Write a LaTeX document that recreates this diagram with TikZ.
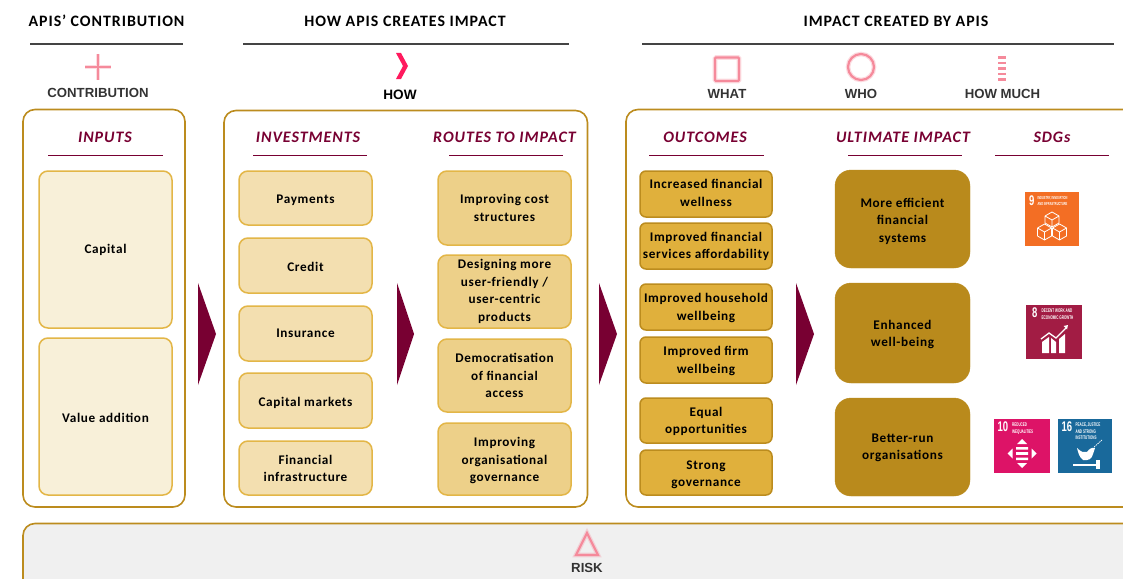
\documentclass[tikz,border=0pt]{standalone}
\usepackage{fontspec}
\setmainfont{Carlito}
\newfontfamily\hdfont[LetterSpace=6]{Carlito}
\newfontfamily\bxfont[LetterSpace=5]{Carlito}
\newfontfamily\iconfont{Liberation Sans}
\definecolor{maroon}{HTML}{780032}
\definecolor{gold}{HTML}{BC8C1E}
\definecolor{goldline}{HTML}{E3B647}
\definecolor{fillA}{HTML}{F8F0D9}
\definecolor{fillB}{HTML}{F3DFB0}
\definecolor{fillC}{HTML}{EDD089}
\definecolor{fillD}{HTML}{E0B03C}
\definecolor{fillE}{HTML}{B98A1C}
\definecolor{riskbg}{HTML}{F0F0F0}
\definecolor{rule}{HTML}{444444}
\definecolor{iconpink}{HTML}{F58A9B}
\definecolor{howpink}{HTML}{FF1A5E}
\definecolor{sdgnine}{HTML}{F36E24}
\definecolor{sdgeight}{HTML}{A21C44}
\definecolor{sdgten}{HTML}{DD1367}
\definecolor{sdgsixteen}{HTML}{19699B}
\tikzset{
  x=1pt,y=-1pt,
  basebox/.style={draw,rounded corners=9pt,inner sep=0pt,outer sep=0pt},
  boxtext/.style={align=center,font=\bxfont\bfseries\fontsize{13.2}{17.5}\selectfont,inner sep=0pt,text=black},
  panel/.style={draw=gold,line width=1.6pt,rounded corners=12pt,fill=white},
  boxA/.style={basebox,fill=fillA,draw=goldline,line width=1.5pt},
  boxB/.style={basebox,fill=fillB,draw=goldline,line width=1.5pt},
  boxC/.style={basebox,fill=fillC,draw=goldline,line width=1.5pt},
  boxD/.style={basebox,fill=fillD,draw=gold,line width=1.5pt,rounded corners=6pt},
  boxE/.style={basebox,fill=fillE,draw=fillE,rounded corners=16pt},
  maintitle/.style={font=\hdfont\bfseries\fontsize{15.9}{17}\selectfont,inner sep=0pt,text=black},
  subtitle/.style={font=\hdfont\bfseries\itshape\fontsize{16}{17}\selectfont,inner sep=0pt,text=maroon},
  iconlabel/.style={font=\iconfont\bfseries\fontsize{13.2}{14}\selectfont,inner sep=0pt,text=black!80},
  headrule/.style={draw=rule,line width=1.4pt},
  subrule/.style={draw=maroon,line width=1pt},
  flowtri/.style={fill=maroon,draw=none},
  iconline/.style={draw=iconpink,line width=2.2pt,preaction={draw=iconpink,opacity=.3,line width=4.6pt}},
  sdgtext/.style={font=\iconfont\bfseries\fontsize{5.2}{6.7}\selectfont,text=white,align=left,inner sep=0pt,anchor=north west,xscale=.58,transform shape},
  sdgnum/.style={font=\iconfont\bfseries\fontsize{14}{14}\selectfont,text=white,inner sep=0pt,anchor=north west,xscale=.68,transform shape},
}
\newcommand{\bx}[8]{\node[#2,minimum width={(#5-#3)*1pt},minimum height={(#6-#4)*1pt}] (#1) at ({(#3+#5)/2},{(#4+#6)/2}) {};
\node[boxtext] (#1-t) at ([yshift={(-#8)*1pt}]#1.center) {#7};}
\begin{document}
\begin{tikzpicture}
\useasboundingbox (0,0) rectangle (1123,578);
% titles
\node[maintitle] (t1) at (106.5,21) {APIS’ CONTRIBUTION};
\node[maintitle] (t2) at (405,21) {HOW APIS CREATES IMPACT};
\node[maintitle] (t3) at (896,21) {IMPACT CREATED BY APIS};
\draw[headrule] (30,44) -- (183,44);
\draw[headrule] (243,44) -- (569,44);
\draw[headrule] (642,44) -- (1114,44);
% icons
\draw[iconline] (85,67) -- (111,67) (98,54) -- (98,80);
\node[iconlabel] (lc) at (98,92.5) {CONTRIBUTION};
\fill[howpink] (396,53) -- (401,53) -- (408,66) -- (401,79) -- (396,79) -- (403,66) -- cycle;
\node[font=\iconfont\bfseries\fontsize{13.6}{14}\selectfont,inner sep=0pt] (lh) at (400,95) {HOW};
\draw[iconline,rounded corners=1pt] (715,57.5) rectangle (739,81);
\node[iconlabel] (lw) at (727,93.5) {WHAT};
\draw[iconline] (861,67) circle (13);
\node[iconlabel] (lo) at (861,93.5) {WHO};
\draw[draw=iconpink,line width=7.5pt,dash pattern=on 2.6pt off 2.9pt] (1002,56) -- (1002,82);
\node[iconlabel] (lm) at (1002.5,94) {HOW MUCH};
% panels
\draw[panel] (23,109.5) rectangle (185,507);
\draw[panel] (224,110.5) rectangle (587.5,507);
\draw[panel] (626,109.5) rectangle (1135,507);
\draw[panel,fill=riskbg] (23,523.5) rectangle (1135,600);
% risk
\draw[iconline,line join=miter] (587,533) -- (598,555) -- (576,555) -- cycle;
\node[iconlabel] (lr) at (587,568) {RISK};
% subtitles
\node[subtitle] (s1) at (105,137) {INPUTS};
\node[subtitle] (s2) at (308,137) {INVESTMENTS};
\node[subtitle] (s3) at (504.5,137) {ROUTES TO IMPACT};
\node[subtitle] (s4) at (705,137) {OUTCOMES};
\node[subtitle] (s5) at (903,137) {ULTIMATE IMPACT};
\node[subtitle] (s6) at (1052,137) {SDGs};
\draw[subrule] (48,155.5) -- (163,155.5);
\draw[subrule] (253,155.5) -- (367,155.5);
\draw[subrule] (449,155.5) -- (563,155.5);
\draw[subrule] (649,155.5) -- (764,155.5);
\draw[subrule] (848,155.5) -- (962,155.5);
\draw[subrule] (995,155.5) -- (1109,155.5);
% inputs
\bx{a1}{boxA}{39}{171}{172}{328}{Capital}{0}
\bx{a2}{boxA}{39}{338}{172}{495}{Value addition}{1}
% investments
\bx{b1}{boxB}{239}{171}{372}{225}{Payments}{2}
\bx{b2}{boxB}{239}{238}{372}{293}{Credit}{1}
\bx{b3}{boxB}{239}{306}{372}{361}{Insurance}{0}
\bx{b4}{boxB}{239}{373}{372}{428}{Capital markets}{2}
\bx{b5}{boxB}{239}{441}{372}{495}{Financial\\infrastructure}{.5}
% routes
\bx{c1}{boxC}{438}{171}{571}{245}{Improving cost\\structures}{0}
\bx{c2}{boxC}{438}{255}{571}{328}{Designing more\\user-friendly /\\user-centric\\products}{0}
\bx{c3}{boxC}{438}{339}{571}{412}{Democratisation\\of financial\\access}{0}
\bx{c4}{boxC}{438}{423}{571}{495}{Improving\\organisational\\governance}{1.5}
% outcomes
\bx{d1}{boxD}{640}{171}{772}{217}{Increased financial\\wellness}{-1}
\bx{d2}{boxD}{640}{223}{772}{269}{Improved financial\\services affordability}{.5}
\bx{d3}{boxD}{640}{284}{772}{330}{Improved household\\wellbeing}{1}
\bx{d4}{boxD}{640}{337}{772}{383}{Improved firm\\wellbeing}{1}
\bx{d5}{boxD}{640}{398}{772}{443}{Equal\\opportunities}{1}
\bx{d6}{boxD}{640}{450}{772}{495}{Strong\\governance}{2.5}
% ultimate
\bx{e1}{boxE}{835}{170}{970}{268}{More efficient\\financial\\systems}{2}
\bx{e2}{boxE}{835}{283}{970}{383}{Enhanced\\well-being}{1.5}
\bx{e3}{boxE}{835}{398}{970}{496}{Better-run\\organisations}{1}
% flow triangles
\fill[flowtri] (198,283) -- (216,334) -- (198,385) -- cycle;
\fill[flowtri] (397,283) -- (414,334) -- (397,385) -- cycle;
\fill[flowtri] (599,283) -- (617,334) -- (599,385) -- cycle;
\fill[flowtri] (796,283) -- (814,334) -- (796,385) -- cycle;
% SDG 9
\fill[sdgnine] (1025,192) rectangle (1079,246);
\node[sdgnum] (n9) at (1029,196) {9};
\node[sdgtext,font=\iconfont\bfseries\fontsize{4.4}{6.2}\selectfont] (x9) at (1037.5,196) {INDUSTRY, INNOVATION\\AND INFRASTRUCTURE};
\begin{scope}[draw=white,line width=.8pt,line join=round]
\draw (1052,212) -- (1059,216) -- (1059,223) -- (1052,227) -- (1045,223) -- (1045,216) -- cycle (1045,216) -- (1052,220) -- (1059,216) (1052,220) -- (1052,227);
\draw (1044.5,224) -- (1051.5,228) -- (1051.5,236) -- (1044.5,240) -- (1037.5,236) -- (1037.5,228) -- cycle (1037.5,228) -- (1044.5,232) -- (1051.5,228) (1044.5,232) -- (1044.5,240);
\draw (1059.5,224) -- (1066.5,228) -- (1066.5,236) -- (1059.5,240) -- (1052.5,236) -- (1052.5,228) -- cycle (1052.5,228) -- (1059.5,232) -- (1066.5,228) (1059.5,232) -- (1059.5,240);
\end{scope}
% SDG 8
\fill[sdgeight] (1026,305) rectangle (1082,359);
\node[sdgnum] (n8) at (1032,308) {8};
\node[sdgtext,font=\iconfont\bfseries\fontsize{5.3}{6.8}\selectfont] (x8) at (1041.5,308.5) {DECENT WORK AND\\ECONOMIC GROWTH};
\fill[white] (1042,342) -- (1049,337) -- (1049,353) -- (1042,353) -- cycle (1051,338) -- (1056,342) -- (1056,353) -- (1051,353) -- cycle (1059,339) -- (1065,334) -- (1065,353) -- (1059,353) -- cycle;
\draw[white,line width=1.3pt] (1041,339) -- (1049,333) -- (1056,338) -- (1066,328);
\fill[white] (1063.5,326) -- (1068,325) -- (1067,329.5) -- cycle;
% SDG 10
\fill[sdgten] (994,419) rectangle (1050,473);
\node[sdgnum] (n10) at (997.5,422) {10};
\node[sdgtext] (x10) at (1012,422.5) {REDUCED\\INEQUALITIES};
\fill[white] (1022,439) -- (1027,444) -- (1017,444) -- cycle (1022,468) -- (1027,463) -- (1017,463) -- cycle (1007.5,453.5) -- (1012.5,448.5) -- (1012.5,458.5) -- cycle (1036.5,453.5) -- (1031.5,448.5) -- (1031.5,458.5) -- cycle;
\fill[white] (1016,447) rectangle (1028,449.5) (1016,452.2) rectangle (1028,454.8) (1016,457.5) rectangle (1028,460);
% SDG 16
\fill[sdgsixteen] (1058,419) rectangle (1112,473);
\node[sdgnum] (n16) at (1061.5,422) {16};
\node[sdgtext] (x16) at (1075.5,422.5) {PEACE, JUSTICE\\AND STRONG\\INSTITUTIONS};
\fill[white] (1077,448) .. controls (1081,452) and (1084,453) .. (1087,452) .. controls (1089,449) and (1092,447) .. (1095,448) .. controls (1094,450) and (1094,452) .. (1093,454) .. controls (1092,459) and (1088,461) .. (1083,460) .. controls (1079,457) and (1078,452) .. (1077,448) -- cycle;
\draw[white,line width=1.3pt] (1073,465) -- (1100,465);
\draw[white,line width=4pt] (1097.5,460) -- (1097.5,469);
\draw[white,line width=.7pt,dash pattern=on 1.5pt off .8pt] (1094,447) -- (1102,440);
\end{tikzpicture}
\end{document}
